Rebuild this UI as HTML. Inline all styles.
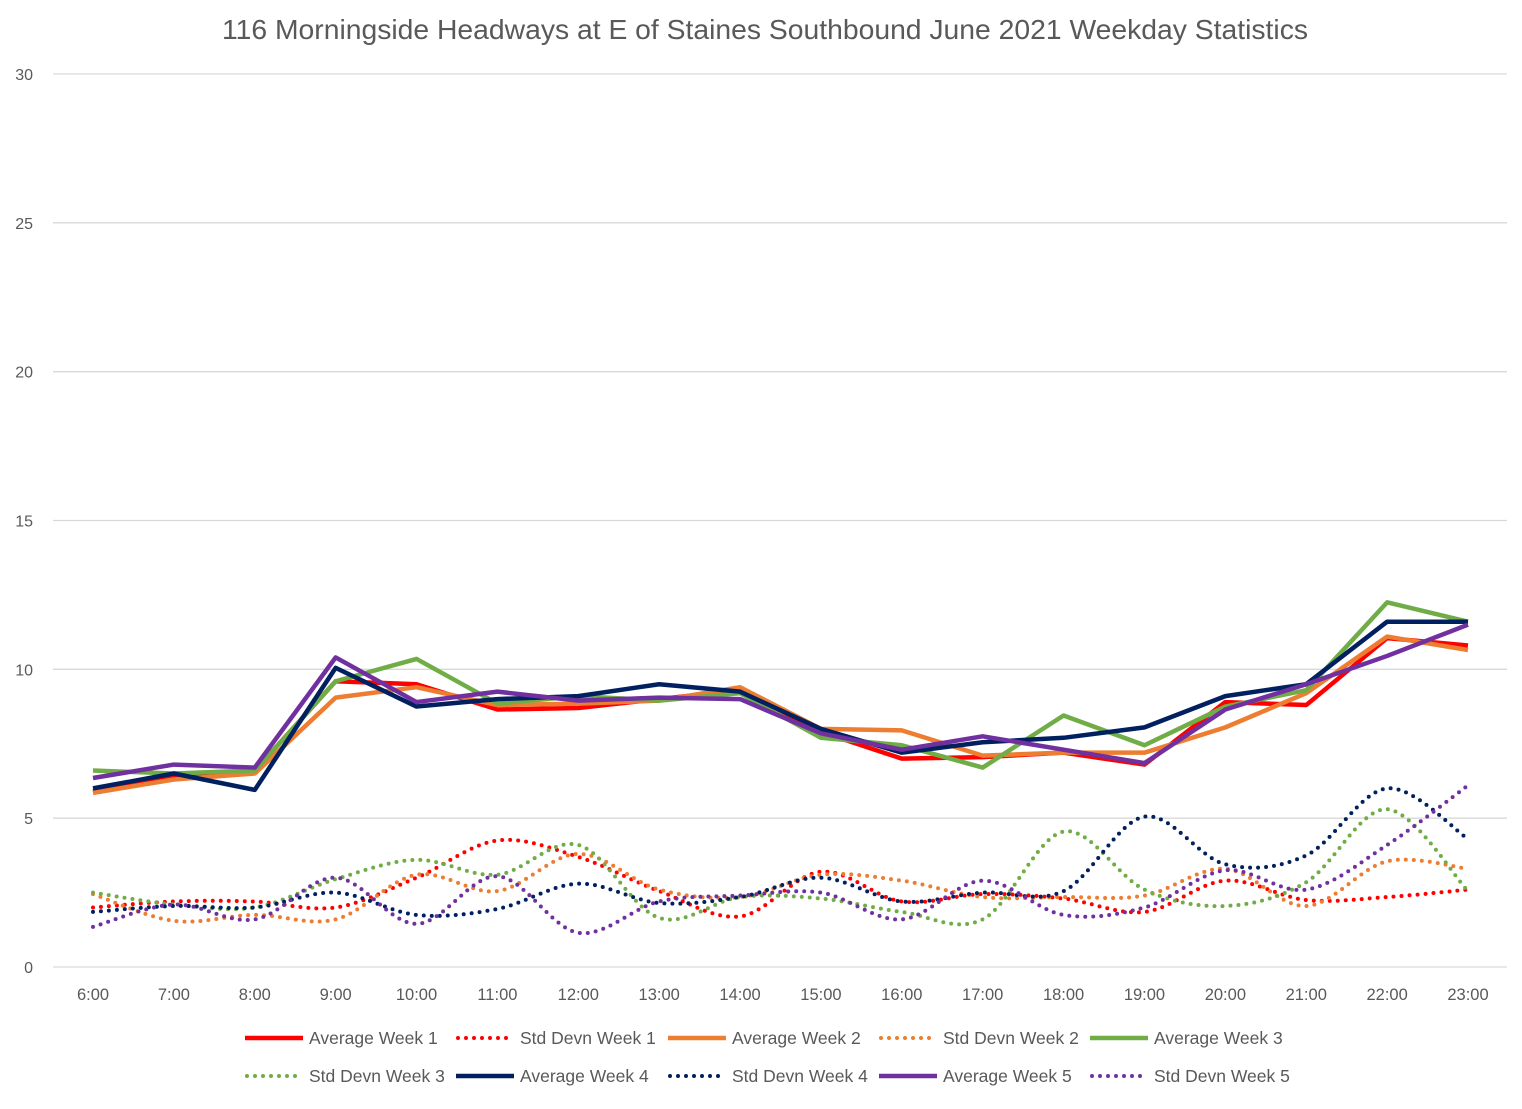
<!DOCTYPE html>
<html><head><meta charset="utf-8"><style>
body{margin:0;background:#fff;}
svg text{font-family:"Liberation Sans",sans-serif;fill:#595959;}
</style></head><body>
<svg id="chart" width="1522" height="1104" xmlns="http://www.w3.org/2000/svg">
<rect width="1522" height="1104" fill="#fff"/>
<text x="765" y="39" font-size="28" text-anchor="middle" textLength="1086" lengthAdjust="spacingAndGlyphs">116 Morningside Headways at E of Staines Southbound June 2021 Weekday Statistics</text>
<g id="grid"></g><g id="series"></g><g id="legend"></g>
</svg>
<script>
const categories=["6:00","7:00","8:00","9:00","10:00","11:00","12:00","13:00","14:00","15:00","16:00","17:00","18:00","19:00","20:00","21:00","22:00","23:00"];
const yTicks=[0,5,10,15,20,25,30];
const avgW1=[5.9,6.4,6.6,9.6,9.5,8.65,8.7,9.0,9.3,7.9,7.0,7.05,7.2,6.8,8.9,8.8,11.05,10.8];
const sdW1=[2.0,2.2,2.2,2.0,3.0,4.25,3.7,2.55,1.7,3.2,2.2,2.45,2.3,1.85,2.9,2.25,2.35,2.6];
const avgW2=[5.85,6.3,6.5,9.05,9.4,8.8,8.85,8.95,9.4,8.0,7.95,7.1,7.2,7.2,8.05,9.2,11.1,10.65];
const sdW2=[2.45,1.55,1.75,1.6,3.1,2.55,3.8,2.6,2.35,3.1,2.9,2.35,2.35,2.4,3.3,2.05,3.55,3.3];
const avgW3=[6.6,6.5,6.6,9.6,10.35,8.85,9.1,8.95,9.2,7.7,7.45,6.7,8.45,7.45,8.75,9.3,12.25,11.6];
const sdW3=[2.5,2.1,2.0,2.95,3.6,3.1,4.1,1.65,2.35,2.3,1.85,1.6,4.55,2.6,2.05,2.85,5.3,2.55];
const avgW4=[6.0,6.5,5.95,10.05,8.75,9.0,9.1,9.5,9.25,8.0,7.2,7.55,7.7,8.05,9.1,9.5,11.6,11.6];
const sdW4=[1.85,2.05,2.0,2.5,1.75,1.95,2.8,2.15,2.35,3.0,2.2,2.5,2.55,5.05,3.45,3.75,6.0,4.3];
const avgW5=[6.35,6.8,6.7,10.4,8.9,9.25,8.95,9.05,9.0,7.85,7.3,7.75,7.3,6.85,8.65,9.5,10.45,11.5];
const sdW5=[1.35,2.1,1.6,3.0,1.45,3.05,1.15,2.2,2.4,2.5,1.6,2.9,1.75,2.0,3.25,2.6,4.1,6.1];

const NS="http://www.w3.org/2000/svg";
const x0=93,x1=1468,yZero=967,yTop=74,yMax=30;
const xS=i=>x0+i*(x1-x0)/(categories.length-1);
const yS=v=>yZero-v*(yZero-yTop)/yMax;
function mk(tag,attrs,parent){const e=document.createElementNS(NS,tag);for(const k in attrs)e.setAttribute(k,attrs[k]);parent.appendChild(e);return e;}
const grid=document.getElementById('grid');
yTicks.forEach(t=>{
  const l=mk('line',{x1:53,x2:1507,y1:yS(t),y2:yS(t),stroke:'#d9d9d9','stroke-width':1.3},grid);
  
  
  const tx=mk('text',{x:33,y:yS(t)+6,'font-size':16,'text-anchor':'end'},grid);
  tx.textContent=t;
  
  
});
categories.forEach((c,i)=>{
  const tx=mk('text',{x:xS(i),y:1000,'font-size':16.5,'text-anchor':'middle'},grid);
  tx.textContent=c;
  
  
});
function straight(d){return d.map((v,i)=>(i?'L':'M')+xS(i)+' '+yS(v)).join(' ');}
function smooth(d){
  const p=d.map((v,i)=>[xS(i),yS(v)]);let s='M'+p[0][0]+' '+p[0][1];
  for(let i=0;i<p.length-1;i++){
    const a=p[i-1]||p[i],b=p[i],c=p[i+1],e=p[i+2]||c;
    const c1=[b[0]+(c[0]-a[0])/6,b[1]+(c[1]-a[1])/6],c2=[c[0]-(e[0]-b[0])/6,c[1]-(e[1]-b[1])/6];
    s+=` C${c1[0]} ${c1[1]} ${c2[0]} ${c2[1]} ${c[0]} ${c[1]}`;
  }return s;}
const series=[
 {n:'Average Week 1',d:avgW1,c:'#ff0000',dot:false},
 {n:'Std Devn Week 1',d:sdW1,c:'#ff0000',dot:true},
 {n:'Average Week 2',d:avgW2,c:'#ed7d31',dot:false},
 {n:'Std Devn Week 2',d:sdW2,c:'#ed7d31',dot:true},
 {n:'Average Week 3',d:avgW3,c:'#70ad47',dot:false},
 {n:'Std Devn Week 3',d:sdW3,c:'#70ad47',dot:true},
 {n:'Average Week 4',d:avgW4,c:'#002060',dot:false},
 {n:'Std Devn Week 4',d:sdW4,c:'#002060',dot:true},
 {n:'Average Week 5',d:avgW5,c:'#7030a0',dot:false},
 {n:'Std Devn Week 5',d:sdW5,c:'#7030a0',dot:true}];
const sg=document.getElementById('series'),lg=document.getElementById('legend');
const legX=[245,456,668,879,1090];
series.forEach((s,k)=>{
  const attrs={d:s.dot?smooth(s.d):straight(s.d),fill:'none',stroke:s.c,'stroke-width':s.dot?4:4.5,'stroke-linejoin':'round'};
  if(s.dot){attrs['stroke-dasharray']='0 8';attrs['stroke-linecap']='round';}
  const p=mk('path',attrs,sg);
  
  
  const lx=legX[k%5],ly=k<5?1038:1076;
  const g=mk('g',{},lg);
  
  
  const la={x1:lx,x2:lx+58,y1:ly,y2:ly,stroke:s.c,'stroke-width':s.dot?4:4.5};
  if(s.dot){la['stroke-dasharray']='0 8';la['stroke-linecap']='round';la.x1=lx+2;}
  mk('line',la,g);
  const t=mk('text',{x:lx+64,y:ly+6,'font-size':17.5},g);t.textContent=s.n;
});
</script>
</body></html>
